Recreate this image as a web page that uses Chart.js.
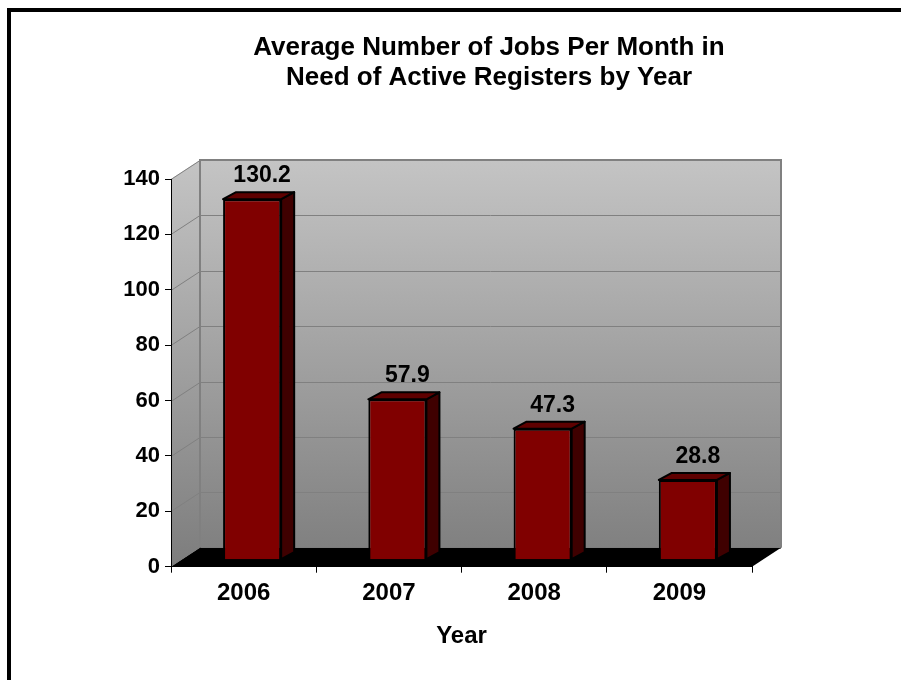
<!DOCTYPE html>
<html>
<head>
<meta charset="utf-8">
<script src="https://cdn.jsdelivr.net/npm/chart.js@4.4.1/dist/chart.umd.min.js"></script>
<style>
  html, body { margin: 0; padding: 0; background: #fff; overflow: hidden; }
  #wrap { position: relative; width: 901px; height: 680px; }
  #frame {
    position: absolute; left: 7px; top: 8px; width: 1000px; height: 800px;
    border: 4px solid #000; pointer-events: none;
  }
</style>
</head>
<body>
<div id="wrap">
  <canvas id="jobsChart" width="901" height="680"></canvas>
  <div id="frame"></div>
</div>
<script>
const years = ["2006", "2007", "2008", "2009"];
const avgJobs = [130.2, 57.9, 47.3, 28.8];
const yTicks = [0, 20, 40, 60, 80, 100, 120, 140];
const titleLines = ["Average Number of Jobs Per Month in", "Need of Active Registers by Year"];
const xTitle = "Year";

const FONT = "'Liberation Sans', Arial, sans-serif";

// 3D look: wall depth, bar shift into the box, bar depth
const WALL = { dx: 29, dy: -19 };
const SHIFT = { dx: 8.5, dy: -7 };
const DEPTH = { dx: 13, dy: -7 };

function poly(ctx, pts) {
  ctx.beginPath();
  ctx.moveTo(pts[0][0], pts[0][1]);
  for (let i = 1; i < pts.length; i++) ctx.lineTo(pts[i][0], pts[i][1]);
  ctx.closePath();
}

// walls + floor, drawn before axes
const wallsPlugin = {
  id: "walls",
  beforeDraw(chart) {
    const ctx = chart.ctx;
    const y = chart.scales.y;
    const L = chart.chartArea.left, R = chart.chartArea.right;
    const T = y.getPixelForValue(yTicks[yTicks.length - 1]);
    const B = y.getPixelForValue(0);
    const { dx, dy } = WALL;

    ctx.save();
    const grad = ctx.createLinearGradient(0, T + dy, 0, B);
    grad.addColorStop(0, "#c4c4c4");
    grad.addColorStop(1, "#7d7d7d");
    ctx.fillStyle = grad;
    // side wall
    poly(ctx, [[L, T], [L + dx, T + dy], [L + dx, B + dy], [L, B]]);
    ctx.fill();
    // back wall
    ctx.fillRect(L + dx, T + dy, R - L, B - T);

    // gridlines
    ctx.strokeStyle = "#808080";
    ctx.lineWidth = 1;
    yTicks.forEach((v) => {
      const py = Math.round(y.getPixelForValue(v)) + 0.5;
      ctx.beginPath();
      ctx.moveTo(L, py);
      ctx.lineTo(L + dx, py + dy);
      ctx.lineTo(R + dx, py + dy);
      ctx.stroke();
    });

    // wall edges
    ctx.lineWidth = 2;
    ctx.beginPath();
    ctx.moveTo(L + dx, B + dy);
    ctx.lineTo(L + dx, T + dy);
    ctx.lineTo(R + dx, T + dy);
    ctx.lineTo(R + dx, B + dy);
    ctx.stroke();

    // floor
    ctx.fillStyle = "#000";
    poly(ctx, [[L, B], [R, B], [R + dx, B + dy], [L + dx, B + dy]]);
    ctx.fill();
    ctx.restore();
  },
};

// shift bars into the box, then add side/top faces and value labels
const barsPlugin = {
  id: "bars3d",
  beforeDatasetsDraw(chart) {
    chart.ctx.save();
    chart.ctx.translate(SHIFT.dx, SHIFT.dy);
  },
  afterDatasetsDraw(chart) {
    const ctx = chart.ctx;
    const meta = chart.getDatasetMeta(0);
    ctx.lineWidth = 2;
    ctx.lineJoin = "round";
    ctx.strokeStyle = "#000";
    meta.data.forEach((bar, i) => {
      const x1 = bar.x - bar.width / 2;
      const x2 = bar.x + bar.width / 2;
      const top = bar.y;
      const base = bar.base;
      // side
      ctx.fillStyle = "#3f0000";
      poly(ctx, [[x2, top], [x2 + DEPTH.dx, top + DEPTH.dy], [x2 + DEPTH.dx, base + DEPTH.dy], [x2, base]]);
      ctx.fill();
      ctx.stroke();
      // top
      ctx.fillStyle = "#5e0000";
      poly(ctx, [[x1, top], [x1 + DEPTH.dx, top + DEPTH.dy], [x2 + DEPTH.dx, top + DEPTH.dy], [x2, top]]);
      ctx.fill();
      ctx.stroke();
      // value label
      ctx.fillStyle = "#000";
      ctx.font = "bold 23px " + FONT;
      ctx.textAlign = "center";
      ctx.textBaseline = "alphabetic";
      ctx.fillText(avgJobs[i].toFixed(1), bar.x + 10, top - 17);
    });
    ctx.restore();
  },
};

const chart = new Chart(document.getElementById("jobsChart"), {
  type: "bar",
  data: {
    labels: years,
    datasets: [
      {
        data: avgJobs,
        backgroundColor: "#800000",
        borderColor: "#000",
        borderWidth: 2,
        categoryPercentage: 1,
        barPercentage: 0.4,
      },
    ],
  },
  options: {
    responsive: false,
    animation: false,
    layout: { padding: { left: 77, right: 0, top: 0, bottom: 0 } },
    plugins: {
      legend: { display: false },
      tooltip: { enabled: false },
      title: {
        display: true,
        text: titleLines,
        color: "#000",
        font: { family: FONT, size: 26, weight: "bold", lineHeight: 1.15 },
        padding: { top: 33, bottom: 86.2 },
      },
    },
    scales: {
      x: {
        grid: { drawOnChartArea: false, color: "#000", tickLength: 6, offset: true },
        border: { color: "#000", width: 1 },
        ticks: { color: "#000", padding: 6, font: { family: FONT, size: 24, weight: "bold" } },
        title: {
          display: true,
          text: xTitle,
          color: "#000",
          font: { family: FONT, size: 24, weight: "bold" },
          padding: { top: 0, bottom: 29.6 },
        },
        afterFit: (s) => { s.height = 113.3; },
      },
      y: {
        min: yTicks[0],
        max: yTicks[yTicks.length - 1],
        afterBuildTicks: (s) => { s.ticks = yTicks.map((v) => ({ value: v })); },
        grid: { drawOnChartArea: false, color: "#000", tickLength: 6 },
        border: { color: "#000", width: 1 },
        ticks: { color: "#000", padding: 5, font: { family: FONT, size: 22, weight: "bold" } },
        afterFit: (s) => { s.width = 94; },
      },
      yr: {
        position: "right",
        grid: { display: false },
        border: { display: false },
        ticks: { display: false },
        afterFit: (s) => { s.width = 149; },
      },
    },
  },
  plugins: [wallsPlugin, barsPlugin],
});
</script>
</body>
</html>
